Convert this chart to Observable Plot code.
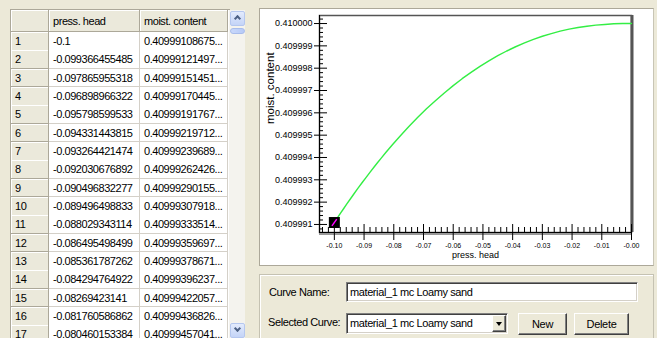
<!DOCTYPE html>
<html><head><meta charset="utf-8">
<script src="https://cdn.jsdelivr.net/npm/d3@7"></script>
<script src="https://cdn.jsdelivr.net/npm/@observablehq/plot@0.6"></script>
<style>
body{margin:0;background:#ECE9D8;width:657px;height:338px;overflow:hidden;position:relative;font-family:"Liberation Sans",Arial,sans-serif;}
.a{position:absolute;box-sizing:border-box;}
.cell{position:absolute;box-sizing:border-box;font-size:11px;letter-spacing:-0.45px;padding-left:4px;white-space:nowrap;overflow:hidden;display:flex;align-items:center;color:#000;}
.hd{background:#EBE9DB;border-right:1px solid #ACA899;border-bottom:1px solid #ACA899;box-shadow:inset 1px 1px #fff;}
.dc{background:#fff;border-right:1px solid #D4D0C8;border-bottom:1px solid #D4D0C8;}
.ui{position:absolute;font-size:11px;letter-spacing:-0.4px;white-space:nowrap;color:#000;}
.sunk{position:absolute;box-sizing:border-box;background:#fff;border:1px solid;border-color:#808080 #fff #fff #808080;box-shadow:inset 1px 1px #404040, inset -1px -1px #D4D0C8;}
.btn{position:absolute;box-sizing:border-box;background:#ECE9D8;border:1px solid;border-color:#fff #404040 #404040 #fff;box-shadow:inset -1px -1px #808080;display:flex;align-items:center;justify-content:center;font-size:11px;letter-spacing:-0.3px;}
</style></head><body>
<script>
const pressHead = [-0.1, -0.099366455485, -0.097865955318, -0.096898966322, -0.095798599533,
  -0.094331443815, -0.093264421474, -0.092030676892, -0.090496832277, -0.089496498833,
  -0.088029343114, -0.086495498499, -0.085361787262, -0.084294764922, -0.08269423141,
  -0.081760586862, -0.080460153384,
  -0.078, -0.075, -0.072, -0.069, -0.066, -0.063, -0.06, -0.057, -0.054, -0.051, -0.048,
  -0.045, -0.042, -0.039, -0.036, -0.033, -0.03, -0.027, -0.024, -0.021, -0.018, -0.015,
  -0.012, -0.009, -0.006, -0.003, 0];
const moistContent = [0.40999108675, 0.40999121497, 0.40999151451, 0.40999170445, 0.40999191767,
  0.40999219712, 0.40999239689, 0.40999262426, 0.40999290155, 0.40999307918,
  0.40999333514, 0.40999359697, 0.40999378671, 0.40999396237, 0.40999422057,
  0.40999436826, 0.40999457041,
  0.40999494, 0.40999538, 0.40999579, 0.40999618, 0.40999654, 0.40999689, 0.40999722,
  0.40999753, 0.40999781, 0.40999808, 0.40999833, 0.40999856, 0.40999877, 0.40999896,
  0.40999913, 0.40999929, 0.40999943, 0.40999955, 0.40999966, 0.40999975, 0.40999982,
  0.40999988, 0.40999993, 0.40999996, 0.40999999, 0.41, 0.41];
const visibleRows = 17;
const columnHeaders = ["press. head", "moist. content"];
const xTicks = [-0.10, -0.09, -0.08, -0.07, -0.06, -0.05, -0.04, -0.03, -0.02, -0.01, 0];
const yTicks = [0.409991, 0.409992, 0.409993, 0.409994, 0.409995, 0.409996, 0.409997, 0.409998, 0.409999, 0.410000];
const axisLabels = {x: "press. head", y: "moist. content"};
const curveName = "material_1 mc Loamy sand";
const formLabels = ["Curve Name:", "Selected Curve:"];
const buttons = ["New", "Delete"];

const body = document.body;
function el(cls, css, text) {
  const d = document.createElement("div");
  d.className = cls; d.style.cssText = css;
  if (text != null) d.textContent = text;
  body.appendChild(d); return d;
}

// ---- table ----
const colX = [11, 49, 140, 228];
const headTop = 10, headH = 22, rowH = 18.33;
el("a", `left:10px;top:9px;width:220px;height:340px;border:1px solid #ACA899;background:#fff;`);
el("cell hd", `left:${colX[0]}px;top:${headTop}px;width:${colX[1]-colX[0]}px;height:${headH}px;`);
columnHeaders.forEach((t, j) => el("cell hd", `left:${colX[j+1]}px;top:${headTop}px;width:${colX[j+2]-colX[j+1]}px;height:${headH}px;`, t));
for (let i = 0; i < visibleRows; i++) {
  const top = headTop + headH + i * rowH;
  el("cell hd", `left:${colX[0]}px;top:${top}px;width:${colX[1]-colX[0]}px;height:${rowH+0.5}px;`, String(i + 1));
  el("cell dc", `left:${colX[1]}px;top:${top}px;width:${colX[2]-colX[1]}px;height:${rowH+0.5}px;`, String(pressHead[i]));
  el("cell dc", `left:${colX[2]}px;top:${top}px;width:${colX[3]-colX[2]}px;height:${rowH+0.5}px;`, String(moistContent[i]) + "...");
}
// scrollbar
el("a", `left:229px;top:10px;width:16px;height:330px;background:#F4F3EE;`);
el("a", `left:230px;top:11px;width:15px;height:15px;background:linear-gradient(#E3EBFD,#C4D4F7);border:1px solid #B5C7EF;border-radius:2px;`);
el("a", `left:234.5px;top:16px;width:5px;height:5px;border-left:2px solid #4D6185;border-top:2px solid #4D6185;transform:rotate(45deg);`);
el("a", `left:230px;top:28px;width:15px;height:6px;background:linear-gradient(90deg,#C9D8FB,#B6CAF7);border:1px solid #A8BCEB;border-radius:3px;`);
el("a", `left:230px;top:323px;width:15px;height:15px;background:linear-gradient(#E3EBFD,#C4D4F7);border:1px solid #B5C7EF;border-radius:2px;`);
el("a", `left:234.5px;top:326px;width:5px;height:5px;border-right:2px solid #4D6185;border-bottom:2px solid #4D6185;transform:rotate(45deg);`);

// ---- chart panel ----
el("a", `left:259px;top:8px;width:395px;height:258px;border:1px solid;border-color:#ACA899 #C8C5B5 #ACA899 #ACA899;background:#fff;box-shadow:inset -1px -1px #fff;`);

const data = pressHead.map((h, i) => ({h, m: moistContent[i]}));
const xDomain = [-0.105, 0];
const yDomain = [0.40999064, 0.41000036];
const W = 391, H = 253, mL = 58, mR = 21, mT = 5, mB = 31;
const pw = W - mL - mR, ph = H - mT - mB;
const xMinor = d3.range(-52, 0).filter(i => i % 5 !== 0).map(i => i * 0.002);
const yMinor = d3.range(-1, 47).filter(i => (i % 5 + 5) % 5 !== 0).map(i => +(yTicks[0] + i * 2e-7).toFixed(8));
const fmtX = d => "-" + Math.abs(d).toFixed(2);
const slash = {draw(ctx, size) { const r = Math.sqrt(size / Math.PI); ctx.moveTo(-0.6 * r, 0.85 * r); ctx.lineTo(0.6 * r, -0.85 * r); }};

const chart = Plot.plot({
  width: W, height: H, marginLeft: mL, marginRight: mR, marginTop: mT, marginBottom: mB,
  style: {background: "#fff", fontFamily: "Liberation Sans, Arial, sans-serif", color: "#000", overflow: "visible"},
  x: {domain: xDomain},
  y: {domain: yDomain},
  marks: [
    Plot.frame({stroke: "#555", strokeWidth: 1.5}),
    Plot.ruleX([xDomain[1]], {stroke: "#555", strokeWidth: 3, dx: 0.5}),
    Plot.ruleY([yDomain[0]], {stroke: "#999", strokeWidth: 2, dy: 1.5}),
    Plot.ruleY([yDomain[0]], {stroke: "#000", strokeWidth: 1}),
    Plot.ruleX([xDomain[0]], {stroke: "#000", strokeWidth: 1}),
    Plot.tickX(xTicks, {x: d => d, insetTop: ph - 8, stroke: "#000"}),
    Plot.tickX(xMinor, {x: d => d, insetTop: ph - 5, stroke: "#000"}),
    Plot.tickY(yTicks, {y: d => d, insetRight: pw - 8, stroke: "#000"}),
    Plot.tickY(yMinor, {y: d => d, insetRight: pw - 4, stroke: "#000"}),
    Plot.axisX(xTicks, {tickSize: 8, tickPadding: 3, fontSize: 7, tickFormat: fmtX, label: null}),
    Plot.axisY(yTicks, {tickSize: 5, tickPadding: 2, fontSize: 9, tickFormat: d => d.toFixed(6), label: null}),
    Plot.text([axisLabels.x], {frameAnchor: "bottom", dy: 25, fontSize: 9}),
    Plot.text([axisLabels.y], {frameAnchor: "left", dx: -49, rotate: -90, fontSize: 11.5}),
    Plot.line(data, {x: "h", y: "m", stroke: "#33ee44", strokeWidth: 1.4}),
    Plot.dot(data.slice(0, 1), {x: "h", y: "m", symbol: "square", r: 6.2, fill: "#000"}),
    Plot.dot(data.slice(0, 1), {x: "h", y: "m", symbol: slash, r: 4, stroke: "#ff00ff", strokeWidth: 1.5, fill: "none"})
  ]
});
chart.style.position = "absolute";
chart.style.left = "261px";
chart.style.top = "10px";
body.appendChild(chart);

// ---- bottom form panel ----
el("a", `left:259px;top:274px;width:395px;height:80px;border:1px solid #C5C2B2;box-shadow:inset 1px 1px #fff;`);
el("ui", `left:269px;top:286px;`, formLabels[0]);
el("ui", `left:268px;top:316px;`, formLabels[1]);
el("sunk", `left:346px;top:282px;width:292px;height:20px;`);
el("ui", `left:350px;top:286px;`, curveName);
el("sunk", `left:346px;top:313px;width:162px;height:21px;`);
el("ui", `left:350px;top:317px;`, curveName);
el("btn", `left:492px;top:315px;width:14px;height:17px;`);
el("a", `left:496px;top:322px;width:0;height:0;border-left:3.5px solid transparent;border-right:3.5px solid transparent;border-top:4px solid #000;`);
el("btn", `left:518px;top:313px;width:49px;height:22px;`, buttons[0]);
el("btn", `left:574px;top:313px;width:55px;height:22px;`, buttons[1]);
</script>
</body></html>
